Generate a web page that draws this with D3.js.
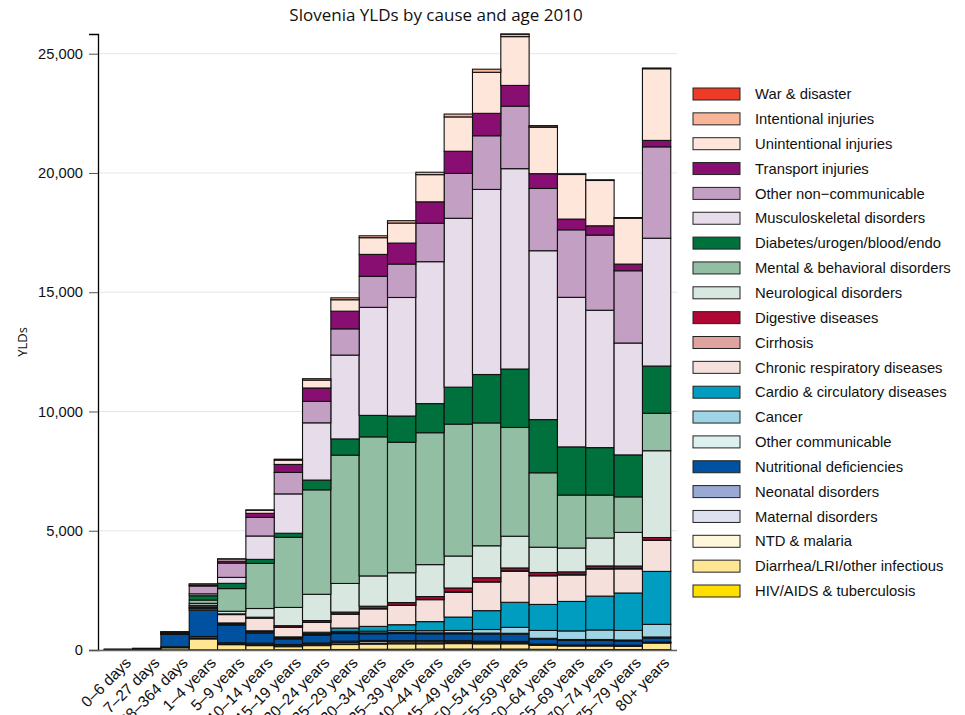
<!DOCTYPE html>
<html>
<head>
<meta charset="utf-8">
<script src="https://cdnjs.cloudflare.com/ajax/libs/d3/7.8.5/d3.min.js"></script>
<style>
	body { margin: 0; background: #fff; }
</style>
</head>
<body>
<script>
"use strict";

var ages = ["0\u20136 days", "7\u201327 days", "28\u2013364 days", "1\u20134 years", "5\u20139 years",
	"10\u201314 years", "15\u201319 years", "20\u201324 years", "25\u201329 years", "30\u201334 years",
	"35\u201339 years", "40\u201344 years", "45\u201349 years", "50\u201354 years", "55\u201359 years",
	"60\u201364 years", "65\u201369 years", "70\u201374 years", "75\u201379 years", "80+ years"];

// stack order, bottom first
var causes = ["HIV/AIDS & tuberculosis", "Diarrhea/LRI/other infectious", "NTD & malaria",
	"Maternal disorders", "Neonatal disorders", "Nutritional deficiencies", "Other communicable",
	"Cancer", "Cardio & circulatory diseases", "Chronic respiratory diseases", "Cirrhosis",
	"Digestive diseases", "Neurological disorders", "Mental & behavioral disorders",
	"Diabetes/urogen/blood/endo", "Musculoskeletal disorders", "Other non\u2212communicable",
	"Transport injuries", "Unintentional injuries", "Intentional injuries", "War & disaster"];

var colors = ["#FEDF00", "#FEE693", "#FFF7DC", "#DDE0EF", "#9AA8D4", "#0051A0", "#DCF0F0",
	"#9ED4E3", "#009DC0", "#F5E0DC", "#E0A29C", "#B00735", "#D8E8E0", "#92BFA3",
	"#00703C", "#E7DCEA", "#C49FC4", "#880E72", "#FEE6DA", "#F9B59A", "#EE3B27"];

var hiv =          [0, 0, 5, 5, 5, 5, 10, 15, 20, 30, 30, 40, 40, 40, 40, 30, 20, 20, 20, 15];
var diarrhea =     [10, 20, 90, 460, 220, 180, 130, 170, 210, 220, 230, 220, 230, 220, 220, 170, 150, 150, 140, 280];
var ntd =          [0, 0, 10, 40, 30, 30, 20, 20, 20, 20, 20, 20, 20, 20, 20, 10, 10, 10, 10, 10];
var maternal =     [0, 0, 0, 0, 0, 10, 20, 40, 60, 80, 60, 60, 50, 40, 30, 10, 10, 10, 10, 10];
var neonatal =     [20, 30, 30, 60, 50, 60, 50, 50, 60, 50, 50, 50, 50, 50, 50, 30, 20, 20, 20, 20];
var nutritional =  [5, 15, 520, 1100, 730, 430, 220, 320, 320, 280, 300, 290, 290, 300, 300, 200, 190, 190, 180, 170];
var otherComm =    [0, 5, 15, 60, 40, 30, 30, 30, 40, 40, 40, 40, 40, 40, 40, 40, 40, 40, 40, 40];
var cancer =       [0, 0, 5, 30, 30, 30, 30, 40, 50, 70, 80, 90, 100, 150, 250, 330, 360, 400, 400, 530];
var cardio =       [0, 0, 5, 30, 30, 30, 40, 60, 140, 200, 250, 380, 560, 790, 1050, 1090, 1236, 1420, 1570, 2220];
var chronicResp =  [0, 0, 10, 60, 350, 530, 405, 410, 580, 736, 810, 920, 1040, 1200, 1300, 1200, 1110, 1135, 1010, 1300];
var cirrhosis =    [0, 0, 0, 0, 0, 0, 5, 10, 10, 10, 10, 10, 20, 20, 20, 20, 20, 20, 20, 10];
var digestive =    [0, 0, 5, 30, 30, 40, 60, 70, 80, 100, 110, 120, 160, 160, 120, 120, 110, 110, 100, 110];
var neuro =        [0, 0, 10, 80, 110, 365, 765, 1100, 1200, 1270, 1250, 1340, 1340, 1340, 1330, 1060, 1000, 1170, 1410, 3640];
var mental =       [0, 0, 5, 140, 950, 1890, 2940, 4380, 5380, 5830, 5470, 5530, 5530, 5150, 4560, 3120, 2220, 1800, 1490, 1570];
var diabetes =     [0, 0, 40, 180, 220, 170, 170, 410, 680, 900, 1100, 1220, 1550, 2030, 2450, 2230, 2020, 1990, 1760, 1980];
var musculo =      [0, 0, 5, 80, 250, 980, 1650, 2400, 3515, 4530, 4970, 5950, 7080, 7760, 8400, 7080, 6270, 5760, 4690, 5360];
var otherNcd =     [0, 0, 5, 330, 600, 780, 900, 900, 1100, 1300, 1400, 1610, 1880, 2250, 2620, 2610, 2830, 3150, 3030, 3830];
var transport =    [0, 0, 0, 20, 80, 170, 335, 560, 740, 920, 880, 900, 930, 940, 870, 620, 450, 390, 280, 270];
var unintentional = [0, 0, 5, 60, 90, 125, 180, 330, 480, 700, 840, 1140, 1440, 1720, 2046, 1945, 1870, 1900, 1920, 3005];
var intentional =  [0, 0, 0, 5, 5, 20, 40, 60, 80, 80, 100, 100, 120, 130, 100, 60, 30, 30, 30, 30];
var war =          [0, 0, 0, 0, 0, 0, 0, 0, 0, 0, 0, 0, 0, 0, 10, 5, 0, 0, 0, 0];

var series = [hiv, diarrhea, ntd, maternal, neonatal, nutritional, otherComm, cancer, cardio,
	chronicResp, cirrhosis, digestive, neuro, mental, diabetes, musculo, otherNcd, transport,
	unintentional, intentional, war];

var yTicks = [0, 5000, 10000, 15000, 20000, 25000];

// rows for d3.stack
var rows = ages.map(function (a, i) {
	var r = { age: a };
	causes.forEach(function (c, j) { r[c] = series[j][i]; });
	return r;
});

var stacked = d3.stack().keys(causes)(rows);
var maxTotal = d3.max(stacked[stacked.length - 1], function (d) { return d[1]; });

var width = 965, height = 715;
var plotLeft = 98, plotRight = 677, plotTop = 34, plotBottom = 650;
var sans = "Liberation Sans, Arial, sans-serif";

var svg = d3.select("body").append("svg")
	.attr("width", width)
	.attr("height", height)
	.attr("font-family", sans);

var x = d3.scaleBand()
	.domain(ages)
	.range([plotLeft, plotRight])
	.paddingInner(0)
	.paddingOuter(0.22);

var y = d3.scaleLinear()
	.domain([0, maxTotal])
	.range([plotBottom, plotTop]);

// grid
svg.append("g")
	.selectAll("line")
	.data(yTicks)
	.enter().append("line")
	.attr("x1", plotLeft)
	.attr("x2", plotRight)
	.attr("y1", function (d) { return y(d); })
	.attr("y2", function (d) { return y(d); })
	.attr("stroke", "#e6e6e6")
	.attr("stroke-width", 1);

// bars
svg.append("g")
	.selectAll("g")
	.data(stacked)
	.enter().append("g")
	.attr("fill", function (d, i) { return colors[i]; })
	.selectAll("rect")
	.data(function (d) { return d; })
	.enter().append("rect")
	.attr("x", function (d) { return x(d.data.age); })
	.attr("width", x.bandwidth())
	.attr("y", function (d) { return y(d[1]); })
	.attr("height", function (d) { return y(d[0]) - y(d[1]); })
	.attr("stroke", "#111")
	.attr("stroke-width", 1.1);

// y axis
var yAxis = svg.append("g")
	.attr("transform", "translate(" + plotLeft + ",0)")
	.call(d3.axisLeft(y).tickValues(yTicks).tickFormat(d3.format(","))
		.tickSizeOuter(0).tickSize(9).tickPadding(6));
yAxis.select(".domain").attr("stroke", "#000").attr("stroke-width", 1.3);
yAxis.selectAll(".tick line").attr("stroke", "#555");
yAxis.selectAll(".tick text")
	.attr("font-size", 14.7)
	.attr("font-family", sans)
	.attr("fill", "#111");

// x axis line
svg.append("line")
	.attr("x1", plotLeft)
	.attr("x2", plotRight)
	.attr("y1", plotBottom + 0.5)
	.attr("y2", plotBottom + 0.5)
	.attr("stroke", "#666")
	.attr("stroke-width", 1.5);

// x labels
svg.append("g")
	.selectAll("text")
	.data(ages)
	.enter().append("text")
	.attr("transform", function (d) {
		return "translate(" + (x(d) + x.bandwidth() / 2 + 6) + "," + (plotBottom + 6) + ") rotate(-45)";
	})
	.attr("text-anchor", "end")
	.attr("dy", "0.7em")
	.attr("font-size", 15.5)
	.attr("fill", "#111")
	.text(function (d) { return d; });

// title
svg.append("text")
	.attr("x", 436)
	.attr("y", 21)
	.attr("text-anchor", "middle")
	.attr("font-family", "Open Sans, sans-serif")
	.attr("font-size", 17)
	.attr("fill", "#111")
	.text("Slovenia YLDs by cause and age 2010");

svg.append("text")
	.attr("transform", "translate(27," + ((plotTop + plotBottom) / 2) + ") rotate(-90)")
	.attr("text-anchor", "middle")
	.attr("font-family", "Open Sans, sans-serif")
	.attr("font-size", 13)
	.attr("fill", "#111")
	.text("YLDs");

// legend, top entry is the last stacked cause
var legend = svg.append("g")
	.selectAll("g")
	.data(causes.slice().reverse())
	.enter().append("g")
	.attr("transform", function (d, i) { return "translate(693," + (94 + i * 24.85) + ")"; });

legend.append("rect")
	.attr("x", 0)
	.attr("y", -6)
	.attr("width", 47)
	.attr("height", 12)
	.attr("fill", function (d) { return colors[causes.indexOf(d)]; })
	.attr("stroke", "#222")
	.attr("stroke-width", 1);

legend.append("text")
	.attr("x", 62)
	.attr("dy", "0.35em")
	.attr("font-size", 14.8)
	.attr("fill", "#111")
	.text(function (d) { return d; });
</script>
</body>
</html>
